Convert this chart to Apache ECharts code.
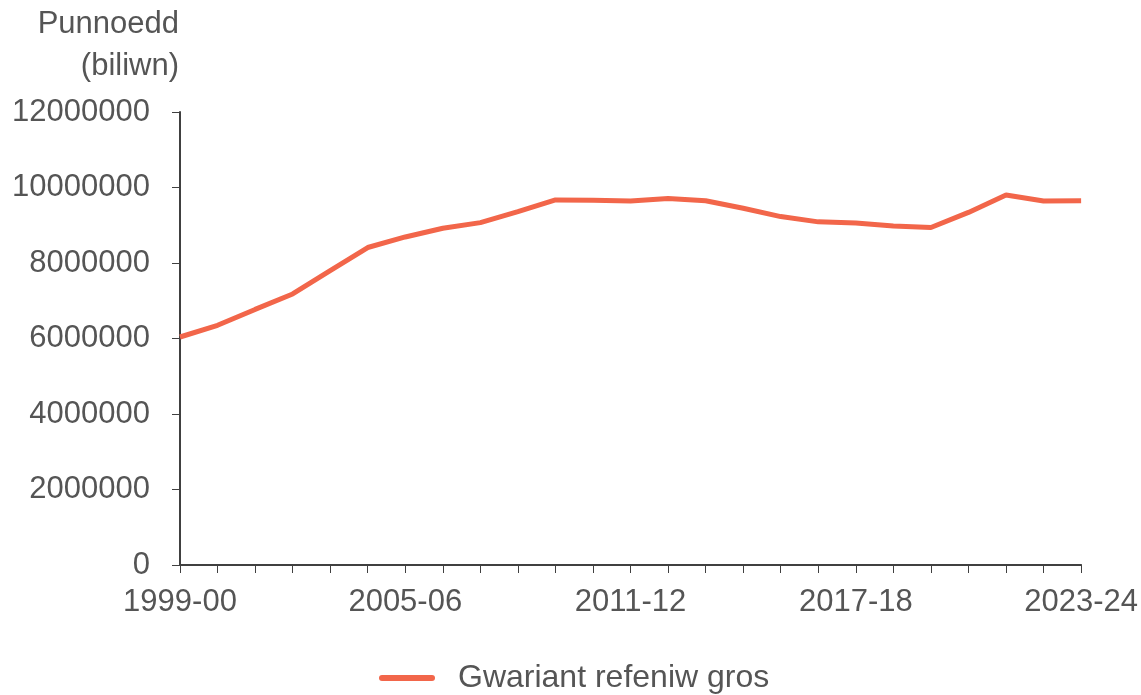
<!DOCTYPE html>
<html>
<head>
<meta charset="utf-8">
<script src="https://cdn.jsdelivr.net/npm/echarts@6/dist/echarts.min.js"></script>
<style>html,body{margin:0;padding:0;background:#fff}#c{width:1141px;height:695px}</style>
</head>
<body>
<div id="c"></div>
<script>
const categories = ["1999-00","2000-01","2001-02","2002-03","2003-04","2004-05","2005-06","2006-07","2007-08","2008-09","2009-10","2010-11","2011-12","2012-13","2013-14","2014-15","2015-16","2016-17","2017-18","2018-19","2019-20","2020-21","2021-22","2022-23","2023-24"];
const grossRevenueSpending = [6040000,6350000,6770000,7180000,7800000,8410000,8690000,8920000,9070000,9360000,9670000,9660000,9640000,9710000,9650000,9450000,9230000,9090000,9060000,8980000,8940000,9340000,9800000,9640000,9650000];
const seriesName = "Gwariant refeniw gros";
const yAxisTitle = "Punnoedd\n(biliwn)";

const textColor = "#555555";
const axisColor = "#404040";
const font = "Liberation Sans, Arial, sans-serif";
const fs = 31;

const chart = echarts.init(document.getElementById('c'), null, {renderer: 'canvas'});
chart.setOption({
  animation: false,
  backgroundColor: '#fff',
  textStyle: {fontFamily: font},
  grid: {left: 180, right: 59, top: 112, bottom: 130, containLabel: false},
  graphic: [{
    type: 'text', right: 1141 - 179, top: 3,
    style: {text: yAxisTitle, font: fs + 'px ' + font, fill: textColor, textAlign: 'right', lineHeight: 42}
  }],
  xAxis: {
    type: 'category', data: categories, boundaryGap: false,
    axisLine: {lineStyle: {color: axisColor, width: 2}},
    axisTick: {show: true, interval: 0, length: 8, lineStyle: {color: axisColor, width: 1}},
    axisLabel: {interval: 5, color: textColor, fontSize: fs, fontFamily: font, margin: 22, showMaxLabel: true},
    splitLine: {show: false}
  },
  yAxis: {
    type: 'value', min: 0, max: 12000000, interval: 2000000,
    axisLine: {show: true, lineStyle: {color: axisColor, width: 2}},
    axisTick: {show: true, length: 8, lineStyle: {color: axisColor, width: 1}},
    axisLabel: {color: textColor, fontSize: fs, fontFamily: font, margin: 30, formatter: v => String(v)},
    splitLine: {show: false}
  },
  legend: {
    left: 374, top: 657,
    itemWidth: 56, itemHeight: 14, itemGap: 20,
    textStyle: {color: textColor, fontSize: 32, fontFamily: font, padding: [0,0,0,18]},
    data: [{name: seriesName, icon: 'path://M3,4 L53,4 A3,3 0 0 1 53,10 L3,10 A3,3 0 0 1 3,4 Z'}]
  },
  series: [{
    name: seriesName, type: 'line', data: grossRevenueSpending,
    symbol: 'none', showSymbol: false,
    lineStyle: {color: '#F2664A', width: 5},
    itemStyle: {color: '#F2664A'}
  }]
});
</script>
</body>
</html>
